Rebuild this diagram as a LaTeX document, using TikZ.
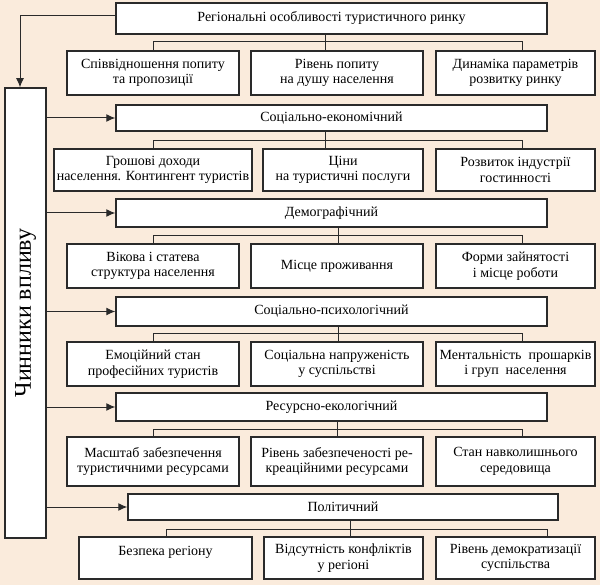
\documentclass[tikz,border=0pt]{standalone}
\usepackage{fontspec}
\setmainfont{Liberation Serif}
\usetikzlibrary{arrows.meta}
\definecolor{bg}{HTML}{FAEBDC}
\definecolor{ln}{HTML}{2A2A2A}
\begin{document}
\begin{tikzpicture}[x=1pt,y=-1pt,
  box/.style={draw=ln,line width=1.5pt,fill=white,inner sep=0pt,align=center,
    font=\fontsize{14}{15.5}\selectfont},
  conn/.style={draw=ln,line width=1pt},
  arr/.style={conn,-{Latex[length=9pt,width=8pt]}}]
\fill[bg] (0,0) rectangle (600,585);
\useasboundingbox (0,0) rectangle (600,585);
% left box
\node[box,minimum width=41pt,minimum height=450pt] (lb) at (25.5,313) {};
\node[rotate=90,font=\fontsize{24}{26}\selectfont] (lbt) at (lb.center) {Чинники впливу};
% row 1
\node[box,minimum width=431pt,minimum height=31pt] (h1) at (331.5,18.5) {Регіональні особливості туристичного ринку};
\node[box,minimum width=172pt,minimum height=44pt] (a1) at (153,73) {Співвідношення попиту\\та пропозиції};
\node[box,minimum width=172pt,minimum height=44pt] (b1) at (337,73) {Рівень попиту\\на душу населення};
\node[box,minimum width=159pt,minimum height=44pt] (c1) at (515.5,73) {Динаміка параметрів\\розвитку ринку};
% row 2
\node[box,minimum width=431pt,minimum height=26pt] (h2) at (331.5,118) {Соціально-економічний};
\node[box,minimum width=198pt,minimum height=42pt] (a2) at (153,170) {Грошові доходи\\населення. Контингент туристів};
\node[box,minimum width=160pt,minimum height=42pt] (b2) at (343,170) {Ціни\\на туристичні послуги};
\node[box,minimum width=159pt,minimum height=42pt] (c2) at (515.5,170) {Розвиток індустрії\\гостинності};
% row 3
\node[box,minimum width=431pt,minimum height=28pt] (h3) at (331.5,213) {Демографічний};
\node[box,minimum width=172pt,minimum height=44pt] (a3) at (153,266) {Вікова і статева\\структура населення};
\node[box,minimum width=172pt,minimum height=44pt] (b3) at (337,266) {Місце проживання};
\node[box,minimum width=159pt,minimum height=44pt] (c3) at (515.5,266) {Форми зайнятості\\і місце роботи};
% row 4
\node[box,minimum width=431pt,minimum height=29pt] (h4) at (331.5,311.5) {Соціально-психологічний};
\node[box,minimum width=172pt,minimum height=44pt] (a4) at (153,364) {Емоційний стан\\професійних туристів};
\node[box,minimum width=172pt,minimum height=44pt] (b4) at (337,364) {Соціальна напруженість\\у суспільстві};
\node[box,minimum width=159pt,minimum height=44pt] (c4) at (515.5,364) {Ментальність\ \ прошарків\\і груп\ \ населення};
% row 5
\node[box,minimum width=431pt,minimum height=28pt] (h5) at (331.5,407) {Ресурсно-екологічний};
\node[box,minimum width=172pt,minimum height=49pt] (a5) at (153,461.5) {Масштаб забезпечення\\туристичними ресурсами};
\node[box,minimum width=172pt,minimum height=49pt] (b5) at (337,461.5) {Рівень забезпеченості ре-\\креаційними ресурсами};
\node[box,minimum width=159pt,minimum height=49pt] (c5) at (515.5,461.5) {Стан навколишнього\\середовища};
% row 6
\node[box,minimum width=430pt,minimum height=26pt] (h6) at (343,507) {Політичний};
\node[box,minimum width=173pt,minimum height=42pt,text depth=14pt] (a6) at (165.5,558) {Безпека регіону};
\node[box,minimum width=159pt,minimum height=42pt] (b6) at (343.5,558) {Відсутність конфліктів\\у регіоні};
\node[box,minimum width=159pt,minimum height=42pt] (c6) at (515.5,558) {Рівень демократизації\\суспільства};
% top feedback arrow
\draw[arr] (h1.west |- 0,16) -| ([xshift=-5.5pt]lb.north);
% arrows to headers
\foreach \h in {h2,h3,h4,h5,h6}{
  \draw[arr] (lb.east |- \h.west) -- (\h.west);
}
% tree connectors
\foreach \h/\a/\b/\c/\vx/\by/\lx/\rx in {
  h1/a1/b1/c1/325/42/153/522,
  h2/a2/b2/c2/325/141/153/522,
  h3/a3/b3/c3/338/236/153/522,
  h4/a4/b4/c4/338/334/153/522,
  h5/a5/b5/c5/337/429/153/522,
  h6/a6/b6/c6/350/529/166/547}{
  \draw[conn] (\h.south -| \vx,0) -- (\b.north -| \vx,0);
  \draw[conn] (\a.north -| \lx,0) -- (\lx,\by) -- (\rx,\by) -- (\c.north -| \rx,0);
}
\end{tikzpicture}
\end{document}
